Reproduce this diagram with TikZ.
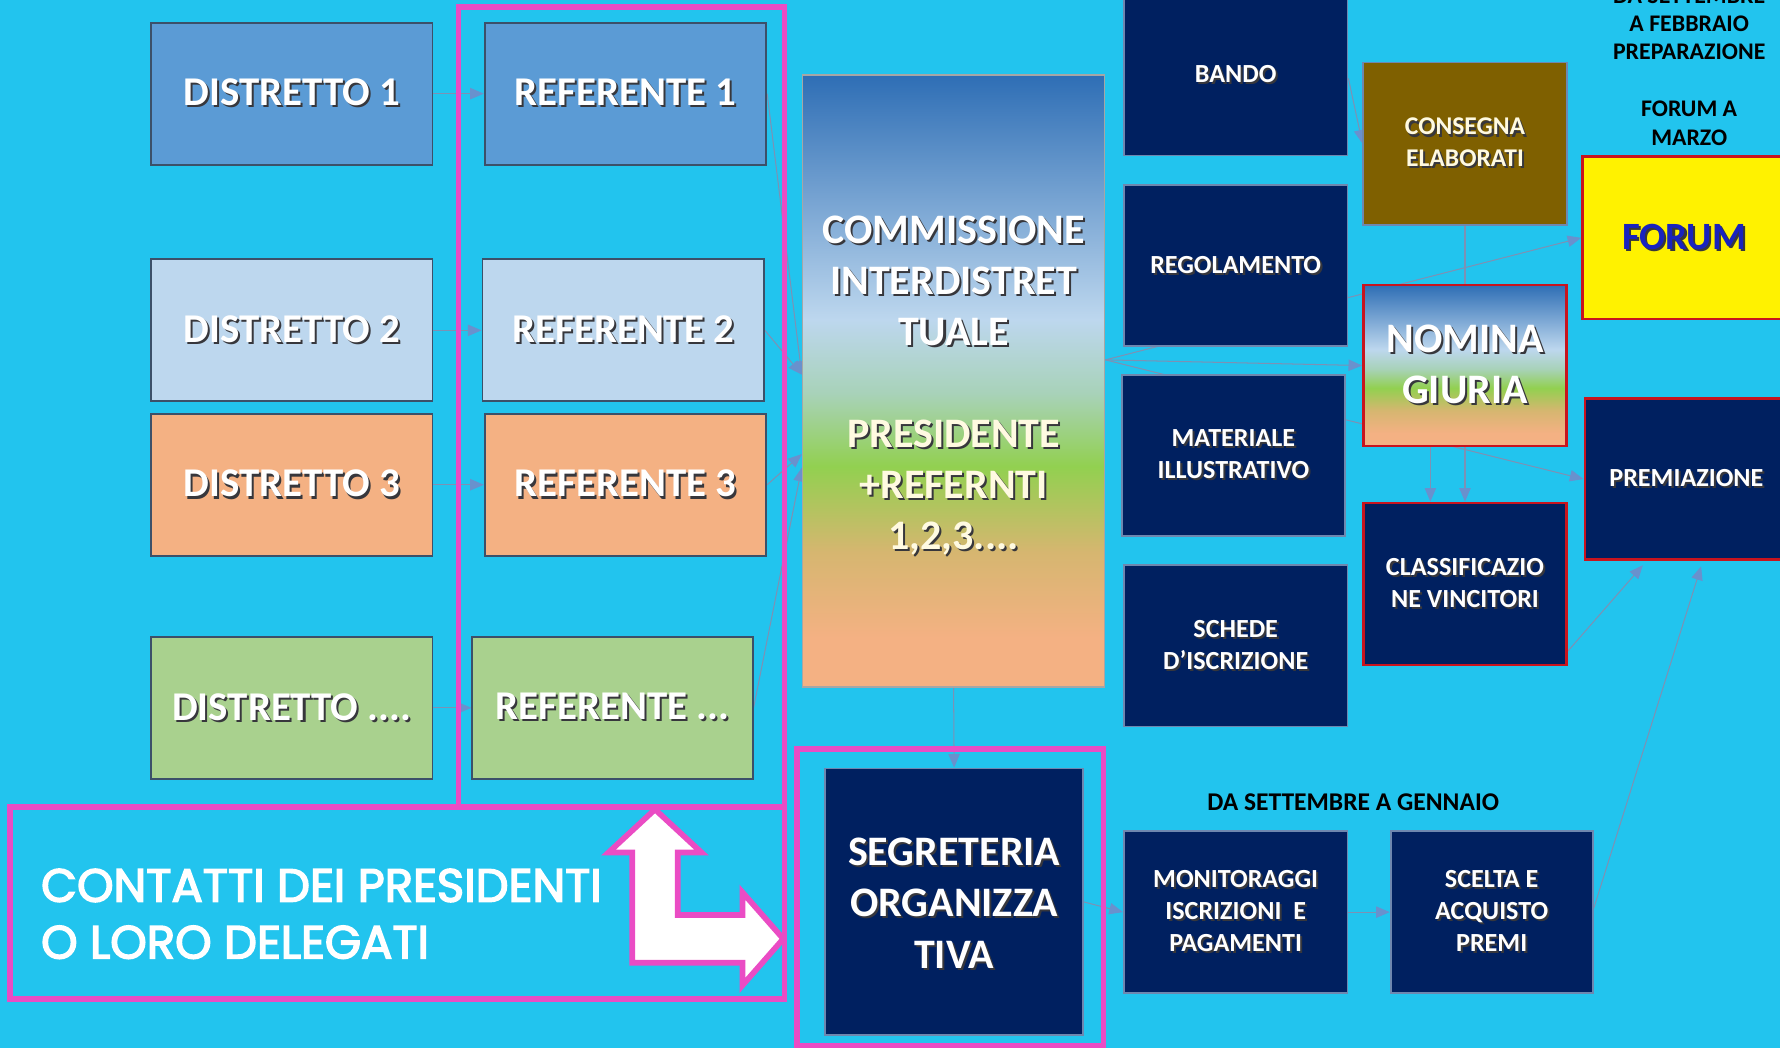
\documentclass[tikz,border=0pt]{standalone}
\usepackage{fontspec}
\setmainfont{Carlito}
\newfontfamily\gothic{Poppins}[FakeBold=3.2]
\usetikzlibrary{arrows.meta}
\definecolor{bgc}{RGB}{34,196,238}
\definecolor{navy}{RGB}{0,32,96}
\definecolor{navyb}{RGB}{110,135,175}
\definecolor{slateb}{RGB}{60,80,105}
\definecolor{cA}{RGB}{91,155,213}
\definecolor{cB}{RGB}{189,215,238}
\definecolor{cC}{RGB}{244,177,131}
\definecolor{cD}{RGB}{169,209,142}
\definecolor{brown}{RGB}{127,96,0}
\definecolor{redb}{RGB}{200,20,30}
\definecolor{pinkc}{RGB}{234,76,196}
\definecolor{linec}{RGB}{125,145,180}
\definecolor{tipc}{RGB}{105,145,205}
\definecolor{shadc}{RGB}{55,55,60}
\definecolor{forumc}{RGB}{25,35,190}
\definecolor{cream}{RGB}{255,250,225}
\definecolor{pch}{RGB}{244,177,131}
\definecolor{tan}{RGB}{214,182,112}
\definecolor{grn}{RGB}{146,208,80}
\definecolor{mid}{RGB}{168,210,185}
\definecolor{lbl}{RGB}{189,215,238}
\definecolor{tbl}{RGB}{46,110,181}
\pgfdeclareverticalshading{commsh}{100bp}{color(0bp)=(pch); color(29bp)=(pch); color(36bp)=(tan); color(43bp)=(grn); color(49bp)=(mid); color(55bp)=(lbl); color(75bp)=(tbl); color(100bp)=(tbl)}
\pgfdeclarelayer{back}
\pgfdeclarelayer{edges}
\pgfsetlayers{back,edges,main}
\newcommand\shd[1]{\leavevmode\rlap{\kern1.8pt\raisebox{-1.8pt}{\textcolor{shadc}{#1}}}#1}
\begin{document}
\begin{tikzpicture}[x=1pt,y=-1pt,
  dbox/.style={draw=slateb, line width=1.6pt, inner sep=0pt, text=white,
    minimum width=248pt, minimum height=125pt, font=\fontsize{36}{40}\selectfont\bfseries},
  nbox/.style={draw=navyb, fill=navy, line width=1.6pt, inner sep=0pt, text=white, align=center,
    minimum width=197pt, minimum height=142pt, font=\fontsize{23}{28}\selectfont\bfseries},
  rbox/.style={draw=redb, line width=2.2pt, inner sep=0pt, align=center,
    minimum width=179pt, minimum height=143pt},
  gshade/.style={shade, shading=commsh},
  conn/.style={draw=linec, line width=0.9pt, -{Triangle[length=12pt,width=10pt,color=tipc]}},
  pinkf/.style={draw=pinkc, line width=5pt, line join=miter},
  lbl/.style={inner sep=0pt, align=center, text=black, font=\fontsize{21}{25}\selectfont\bfseries},
  bigtxt/.style={inner sep=0pt, align=center, text=white, font=\fontsize{37}{45}\selectfont\bfseries}
]
\begin{pgfonlayer}{back}
\fill[bgc] (0,0) rectangle (1568,923);
\end{pgfonlayer}
\useasboundingbox (0,0) rectangle (1568,923);

% districts and referents
\node[dbox, fill=cA] (d1) at (257,82.5) {\shd{DISTRETTO 1}};
\node[dbox, fill=cA] (r1) at (551,82.5) {\shd{REFERENTE 1}};
\node[dbox, fill=cB] (d2) at (257,291) {\shd{DISTRETTO 2}};
\node[dbox, fill=cB] (r2) at (549,291) {\shd{REFERENTE 2}};
\node[dbox, fill=cC] (d3) at (257,427) {\shd{DISTRETTO 3}};
\node[dbox, fill=cC] (r3) at (551,427) {\shd{REFERENTE 3}};
\node[dbox, fill=cD] (d4) at (257,623.5) {\shd{DISTRETTO ....}};
\node[dbox, fill=cD, minimum width=247pt] (r4) at (539.5,623.5) {\shd{REFERENTE ...}};

% commission
\node[draw=gray!70, line width=1.5pt, gshade, inner sep=0pt, minimum width=266pt, minimum height=539pt] (comm) at (840,335.5) {};
\node[bigtxt] (commtxt) at ([yshift=-5pt]comm.center)
  {\shd{COMMISSIONE}\\\shd{INTERDISTRET}\\\shd{TUALE}\\[45pt]\textcolor{cream}{\shd{PRESIDENTE}}\\\textcolor{cream}{\shd{+REFERNTI}}\\\textcolor{cream}{\shd{1,2,3....}}};

% middle column
\node[nbox] (bando) at (1088.5,66) {\shd{BANDO}};
\node[nbox] (regol) at (1088.5,234) {\shd{REGOLAMENTO}};
\node[nbox] (mater) at (1086.5,401) {\shd{MATERIALE}\\\shd{ILLUSTRATIVO}};
\node[nbox] (sched) at (1088.5,569) {\shd{SCHEDE}\\\shd{D’ISCRIZIONE}};

% right part
\node[draw=navyb, line width=1.6pt, fill=brown, inner sep=0pt, minimum width=179pt, minimum height=143pt,
  align=center, text=cream, font=\fontsize{22.5}{28}\selectfont\bfseries] (conseg) at (1290.5,126.5)
  {\shd{CONSEGNA}\\\shd{ELABORATI}};
\node[rbox, gshade, minimum height=142pt, text=white, font=\fontsize{37}{45}\selectfont\bfseries] (nomina) at (1290.5,322)
  {\shd{NOMINA}\\\shd{GIURIA}};
\node[rbox, fill=navy, text=white, font=\fontsize{23}{28}\selectfont\bfseries] (classif) at (1290.5,514.5)
  {\shd{CLASSIFICAZIO}\\\shd{NE VINCITORI}};
\node[rbox, fill=yellow, text=forumc, font=\fontsize{34}{40}\selectfont\bfseries] (forum) at (1483.5,209.5)
  {\shd{FORUM}};
\node[rbox, fill=navy, minimum height=142pt, text=white, font=\fontsize{23}{28}\selectfont\bfseries] (premi) at (1485.5,422)
  {\shd{PREMIAZIONE}};

\node[lbl] (toptxt) at (1488,58.5) {DA SETTEMBRE\\A FEBBRAIO\\PREPARAZIONE\\[25pt]FORUM A\\MARZO};

% bottom row
\node[nbox, minimum width=227pt, minimum height=235pt, font=\fontsize{37}{45}\selectfont\bfseries] (segr) at (840.5,794.5) {};
\node[bigtxt] (segrtxt) at ([yshift=-2pt]segr.center) {\shd{SEGRETERIA}\\\shd{ORGANIZZA}\\\shd{TIVA}};
\node[nbox, minimum height=143pt] (monit) at (1088.5,803.5)
  {\shd{MONITORAGGI}\\\shd{ISCRIZIONI\ \ E}\\\shd{PAGAMENTI}};
\node[nbox, minimum width=178pt, minimum height=143pt] (scelta) at (1314,803.5)
  {\shd{SCELTA E}\\\shd{ACQUISTO}\\\shd{PREMI}};
\node[lbl, font=\fontsize{22.5}{26}\selectfont\bfseries] (gennaio) at (1192,707) {DA SETTEMBRE A GENNAIO};

\node[inner sep=0pt, anchor=west, align=left, text=white, font=\gothic\fontsize{41}{50}\selectfont] (contatti) at (36,805)
  {CONTATTI DEI PRESIDENTI\\O LORO DELEGATI};

% connectors
\begin{pgfonlayer}{edges}
\draw[conn] (d1.east) -- (r1.west);
\draw[conn] (d2.east) -- (r2.west);
\draw[conn] (d3.east) -- (r3.west);
\draw[conn] (d4.east) -- (r4.west);
\draw[conn] (r1.east) -- ([yshift=5.5pt]comm.west);
\draw[conn] (r2.east) -- ([yshift=5.5pt]comm.west);
\draw[conn] (r3.east) -- ([yshift=-64.5pt]comm.west);
\draw[conn] (r4.east) -- ([yshift=-76.5pt]comm.west);
\draw[conn] ([yshift=18.5pt]comm.east) -- (nomina.west);
\draw[conn] ([yshift=18.5pt]comm.east) -- (forum.west);
\draw[conn] ([yshift=18.5pt]comm.east) -- (premi.west);
\draw[conn] ([yshift=-3pt]bando.east) -- (conseg.west);
\draw[conn] (conseg.south) -- (classif.north);
\draw[conn] ([xshift=-30.5pt]nomina.south) -- ([xshift=-30.5pt]classif.north);
\draw[conn, shorten >=5pt] ([yshift=13.5pt]classif.south east) -- ([xshift=-35pt]premi.south);
\draw[conn, shorten >=5pt] ([yshift=3pt]scelta.east) -- ([xshift=14.5pt]premi.south);
\draw[conn] (comm.south) -- (segr.north);
\draw[conn] (segr.east) -- (monit.west);
\draw[conn] (monit.east) -- (scelta.west);
\end{pgfonlayer}

% pink frames
\draw[pinkf] (404,6) rectangle (691,711);
\draw[pinkf] (9,711) rectangle (691,880);
\draw[pinkf] (702,660) rectangle (972,921);

% L-shaped double arrow
\draw[pinkf, fill=white] (577,713) -- (618,751) -- (597,751) -- (597,806) -- (654,806) -- (654,786)
  -- (690,827) -- (654,868) -- (654,848) -- (557,848) -- (557,751) -- (536,751) -- cycle;
\end{tikzpicture}
\end{document}
